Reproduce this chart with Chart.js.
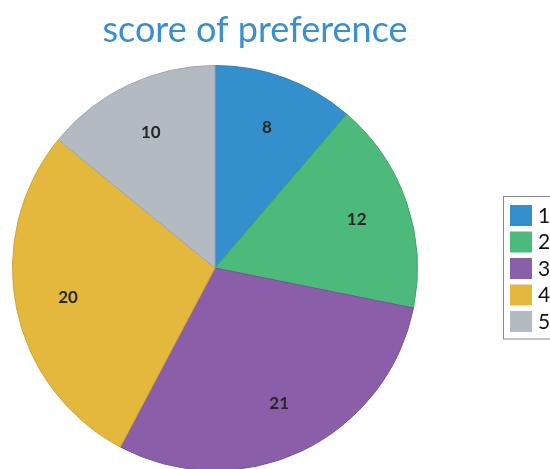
<!DOCTYPE html>
<html>
<head>
<meta charset="utf-8">
<script src="https://cdn.jsdelivr.net/npm/chart.js@4/dist/chart.umd.min.js"></script>
<style>
  html, body { margin: 0; padding: 0; background: #fff; }
  #wrap { position: relative; width: 550px; height: 469px; overflow: hidden; }
  #wrap canvas { position: absolute; left: 0; top: 0; }
</style>
</head>
<body>
<div id="wrap"><canvas id="pie" width="560" height="480"></canvas></div>
<script>
const TITLE = 'score of preference'
const labels = ['1', '2', '3', '4', '5']
const values = [8, 12, 21, 20, 10]
const colors = ['#3490cd', '#4bba7a', '#8a5ea8', '#e4b83c', '#b3bac2']
const borders = ['#2f80b8', '#42a56c', '#7a5395', '#cfa535', '#a0a7ae']

// ── plugins ──────────────────────────────────────────────────────────────────

// value labels inside slices (~0.74 of the radius)
const sliceLabels = {
    id: 'sliceLabels',
    afterDatasetsDraw(chart) {
        const ctx = chart.ctx
        const meta = chart.getDatasetMeta(0)
        ctx.save()
        ctx.font = 'bold 17px Lato'
        ctx.fillStyle = '#262626'
        ctx.textAlign = 'center'
        ctx.textBaseline = 'middle'
        meta.data.forEach((arc, i) => {
            const p = arc.getProps(['x', 'y', 'startAngle', 'endAngle', 'outerRadius'], true)
            const mid = (p.startAngle + p.endAngle) / 2
            const r = p.outerRadius * 0.74
            ctx.fillText(String(values[i]), p.x + Math.cos(mid) * r, p.y + Math.sin(mid) * r)
        })
        ctx.restore()
    }
}

// title + boxed legend, drawn by hand
const decor = {
    id: 'decor',
    afterDraw(chart) {
        const ctx = chart.ctx
        ctx.save()
        ctx.font = '36px Lato'
        ctx.fillStyle = '#3a8fcf'
        ctx.textAlign = 'center'
        ctx.textBaseline = 'alphabetic'
        ctx.fillText(TITLE, 255, 42)

        // legend box
        const x0 = 503.5, y0 = 196.5
        const step = 26.5
        ctx.strokeStyle = '#8a8a8a'
        ctx.lineWidth = 1
        ctx.strokeRect(x0, y0, 80, step * labels.length + 10)

        ctx.font = '21px Lato'
        ctx.textBaseline = 'middle'
        ctx.textAlign = 'left'
        labels.forEach((l, i) => {
            const y = 205 + i * step
            ctx.fillStyle = colors[i]
            ctx.fillRect(510, y, 22, 21)
            ctx.fillStyle = '#111'
            ctx.fillText(l, 538, y + 11)
        })
        ctx.restore()
    }
}

// ── chart ────────────────────────────────────────────────────────────────────

new Chart(document.getElementById('pie'), {
    type: 'pie',
    data: {
        labels,
        datasets: [{
            data: values,
            backgroundColor: colors,
            borderColor: borders,
            borderWidth: 1,
        }]
    },
    options: {
        responsive: false,
        animation: false,
        layout: { padding: { left: 12, right: 142, top: 65, bottom: 9 } },
        plugins: {
            legend: { display: false },
            title: { display: false },
            tooltip: { enabled: false },
        }
    },
    plugins: [sliceLabels, decor]
})
</script>
</body>
</html>
